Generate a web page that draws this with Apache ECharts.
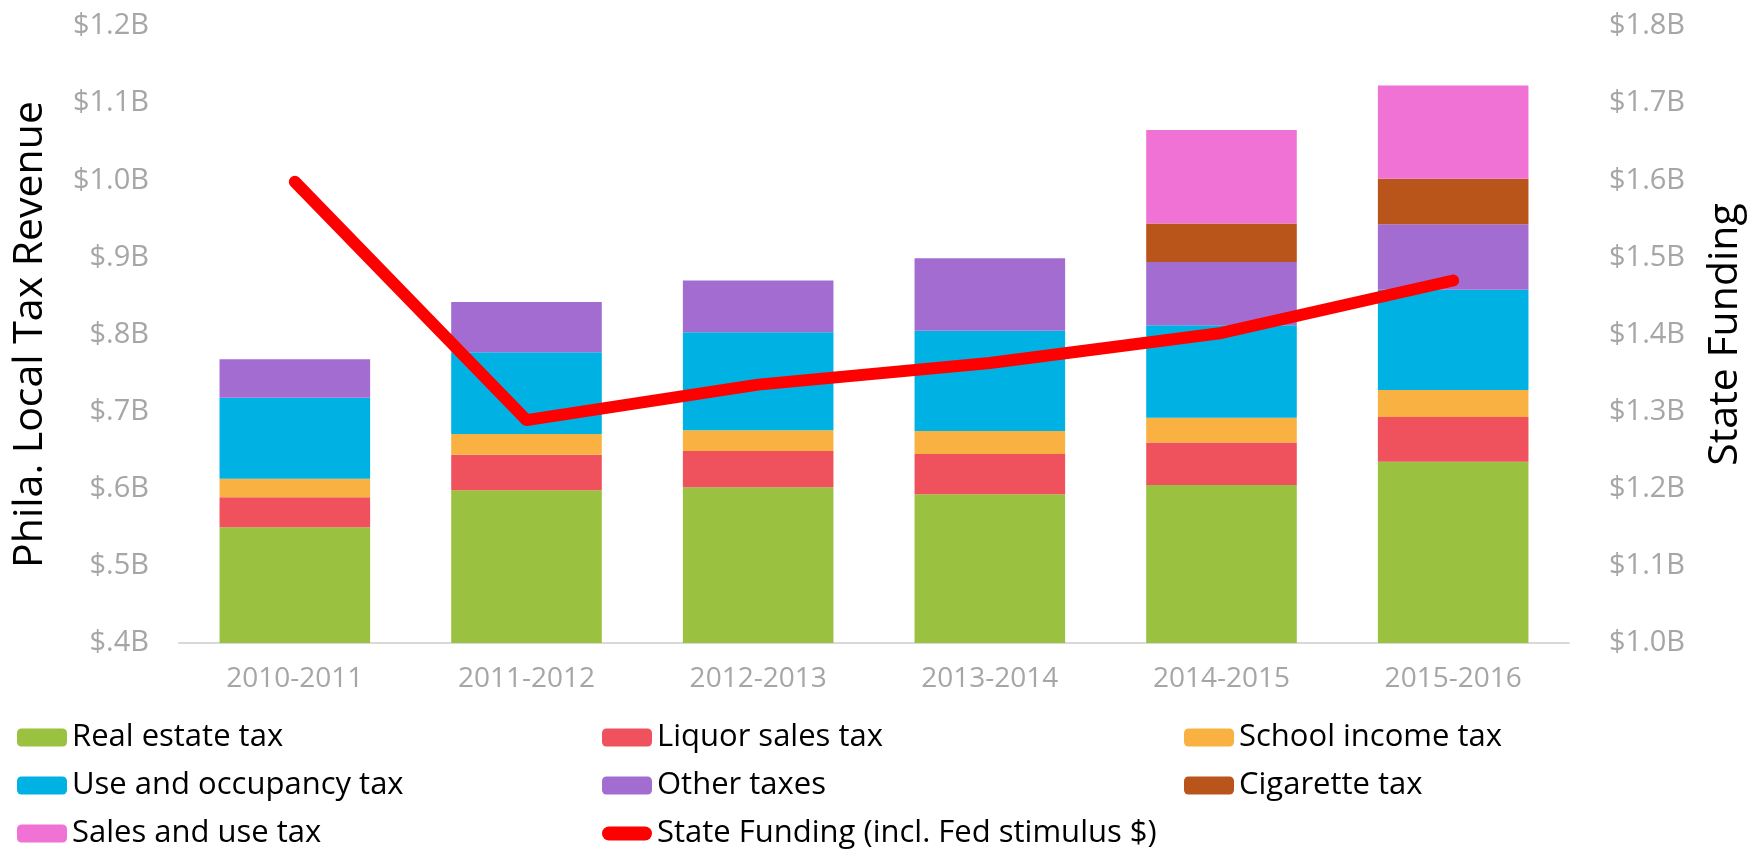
<!DOCTYPE html>
<html>
<head>
<meta charset="utf-8">
<script src="https://cdn.jsdelivr.net/npm/echarts@6/dist/echarts.min.js"></script>
<style>
  html, body { margin: 0; padding: 0; background: #fff; }
  #main { width: 1763px; height: 849px; }
</style>
</head>
<body>
<div id="main"></div>
<script>
// fiscal years
const years = ['2010-2011', '2011-2012', '2012-2013', '2013-2014', '2014-2015', '2015-2016']

// local tax revenue, $ billions (stacked)
const realEstate = [0.550, 0.598, 0.602, 0.593, 0.605, 0.635]
const liquorSales = [0.039, 0.046, 0.047, 0.052, 0.055, 0.058]
const schoolIncome = [0.024, 0.027, 0.027, 0.030, 0.032, 0.035]
const useOccupancy = [0.105, 0.106, 0.127, 0.130, 0.120, 0.130]
const otherTaxes = [0.050, 0.065, 0.067, 0.094, 0.082, 0.085]
const cigarette = [null, null, null, null, 0.050, 0.059]
const salesUse = [null, null, null, null, 0.121, 0.121]

// state funding, $ billions (right axis)
const stateFunding = [1.598, 1.289, 1.335, 1.363, 1.402, 1.470]

const leftTicks = { min: 0.4, max: 1.2, step: 0.1 }
const rightTicks = { min: 1.0, max: 1.8, step: 0.1 }

const FONT = 'Open Sans'
const GREY = '#A6A6A6'
const LINE_NAME = 'State Funding (incl. Fed stimulus $)'

function money (v) {
  let s = v.toFixed(1)
  if (s.charAt(0) === '0') s = s.slice(1)
  return '$' + s + 'B'
}

const chart = echarts.init(document.getElementById('main'), null, { renderer: 'canvas' })

function barSeries (name, data, color) {
  return {
    name: name,
    type: 'bar',
    stack: 'tax',
    yAxisIndex: 0,
    barWidth: '65%',
    data: data,
    itemStyle: { color: color },
    emphasis: { disabled: true }
  }
}

const legendBase = {
  orient: 'vertical',
  top: 722,
  padding: 0,
  itemWidth: 50,
  itemHeight: 18,
  itemGap: 17,
  selectedMode: false,
  textStyle: { fontFamily: FONT, fontSize: 31, color: '#000', lineHeight: 30 }
}

// rounded bar used as the legend mark of the line
const pill = 'path://M7,0 L43,0 A7,7 0 0 1 43,14 L7,14 A7,7 0 0 1 7,0 Z'

const option = {
  animation: false,
  grid: { left: 179, right: 194, top: 26, bottom: 206 },
  legend: [
    Object.assign({}, legendBase, { left: 17, data: ['Real estate tax', 'Use and occupancy tax', 'Sales and use tax'] }),
    Object.assign({}, legendBase, {
      left: 602,
      data: ['Liquor sales tax', 'Other taxes', { name: LINE_NAME, icon: pill, itemStyle: { color: '#FF0000' } }]
    }),
    Object.assign({}, legendBase, { left: 1184, data: ['School income tax', 'Cigarette tax'] })
  ],
  xAxis: {
    type: 'category',
    data: years,
    axisTick: { show: false },
    axisLine: { lineStyle: { color: '#D9D9D9', width: 2 } },
    axisLabel: { color: GREY, fontFamily: FONT, fontSize: 28, margin: 22 }
  },
  yAxis: [
    {
      type: 'value',
      min: leftTicks.min,
      max: leftTicks.max,
      interval: leftTicks.step,
      name: 'Phila. Local Tax Revenue',
      nameLocation: 'middle',
      nameGap: 128,
      nameTextStyle: { color: '#000', fontFamily: FONT, fontSize: 41 },
      splitLine: { show: false },
      axisLine: { show: false },
      axisTick: { show: false },
      axisLabel: { color: GREY, fontFamily: FONT, fontSize: 29, margin: 30, formatter: money }
    },
    {
      type: 'value',
      position: 'right',
      min: rightTicks.min,
      max: rightTicks.max,
      interval: rightTicks.step,
      name: 'State Funding',
      nameLocation: 'middle',
      nameGap: 136,
      nameTextStyle: { color: '#000', fontFamily: FONT, fontSize: 41 },
      splitLine: { show: false },
      axisLine: { show: false },
      axisTick: { show: false },
      axisLabel: { color: GREY, fontFamily: FONT, fontSize: 29, margin: 40, formatter: money }
    }
  ],
  series: [
    barSeries('Real estate tax', realEstate, '#9AC13F'),
    barSeries('Liquor sales tax', liquorSales, '#F0525D'),
    barSeries('School income tax', schoolIncome, '#F9B241'),
    barSeries('Use and occupancy tax', useOccupancy, '#00B2E3'),
    barSeries('Other taxes', otherTaxes, '#A36CD1'),
    barSeries('Cigarette tax', cigarette, '#B9541A'),
    barSeries('Sales and use tax', salesUse, '#F072D4'),
    {
      name: LINE_NAME,
      type: 'line',
      yAxisIndex: 1,
      data: stateFunding,
      showSymbol: false,
      symbol: 'none',
      itemStyle: { color: '#FF0000' },
      lineStyle: { color: '#FF0000', width: 12, cap: 'round', join: 'round' },
      emphasis: { disabled: true },
      z: 5
    }
  ]
}

chart.setOption(option)
</script>
</body>
</html>
